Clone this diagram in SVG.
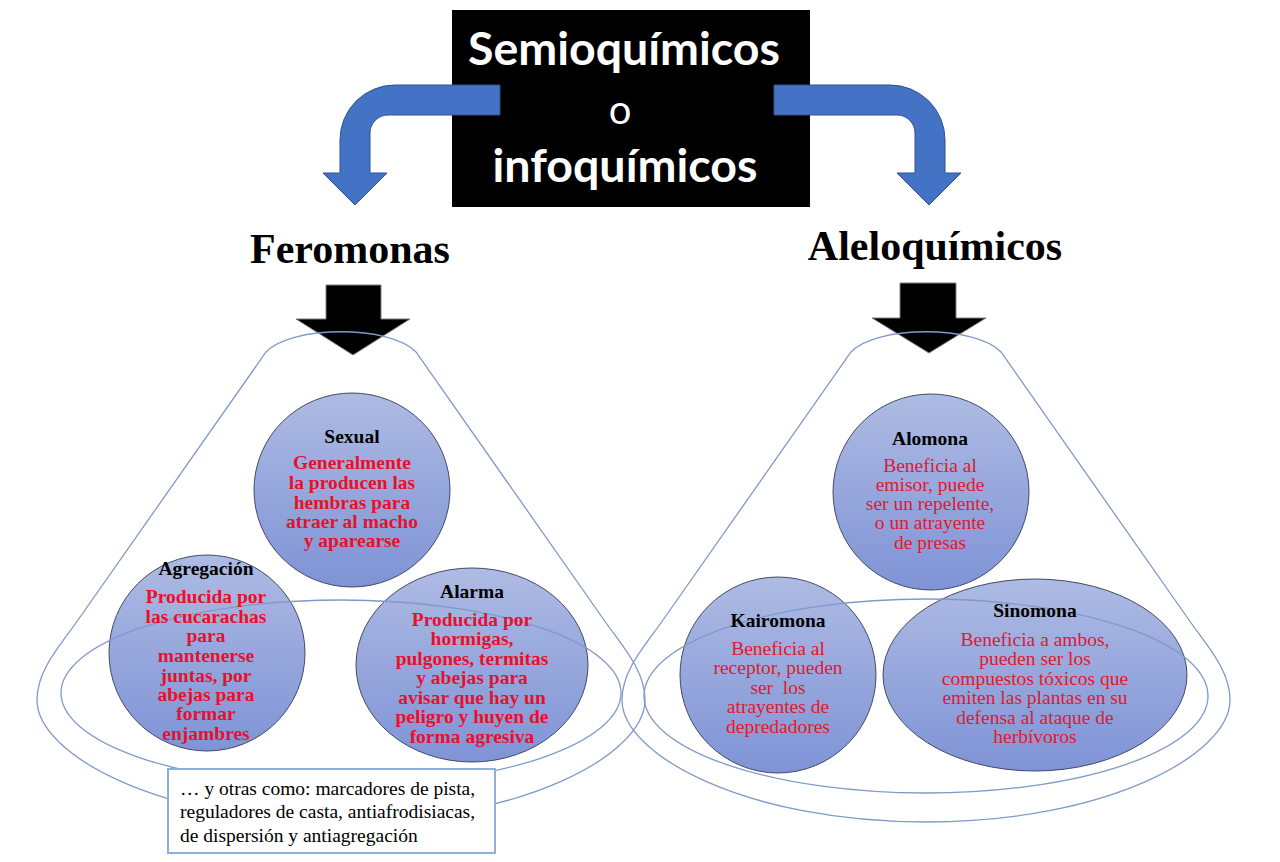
<svg xmlns="http://www.w3.org/2000/svg" width="1280" height="862" viewBox="0 0 1280 862">
<defs>
<linearGradient id="bub" x1="0" y1="0" x2="0" y2="1">
<stop offset="0" stop-color="#AEBBE3"/>
<stop offset="1" stop-color="#7F93D6"/>
</linearGradient>
<style>
.title{font-family:Lato,"Open Sans",sans-serif;fill:#fff}
.head{font-family:"Liberation Serif","Times New Roman",serif;font-weight:bold;font-size:42px;fill:#000;text-anchor:middle}
.bub{fill:url(#bub);stroke:#414a66;stroke-width:1}
.cone{fill:none;stroke:#7F9AC8;stroke-width:1.3}
.blk{fill:#000;stroke:#7f7f7f;stroke-width:1}
.blue{fill:#4472C4;stroke:#2F528F;stroke-width:1}
.t{font-family:"Liberation Serif","Times New Roman",serif;font-size:19.5px;text-anchor:middle}
.tb{font-weight:bold;fill:#000}
.rb{font-weight:bold;fill:#E8102A}
.r{fill:#E2182E}
.note{font-family:"Liberation Serif","Times New Roman",serif;font-size:19.5px;fill:#000}
</style>
</defs>
<rect width="1280" height="862" fill="#fff"/>

<g id="title">
<rect x="452" y="10" width="358" height="197" fill="#000"/>
<text class="title" x="624" y="65" font-size="45" font-weight="bold" text-anchor="middle" textLength="312" lengthAdjust="spacingAndGlyphs">Semioquímicos</text>
<text class="title" x="620" y="124" font-size="40" text-anchor="middle">o</text>
<text class="title" x="625" y="182" font-size="45" font-weight="bold" text-anchor="middle" textLength="265" lengthAdjust="spacingAndGlyphs">infoquímicos</text>
</g>

<g id="connectors">
<path class="blue" d="M500,85 L395,85 A55,55 0 0 0 340,140 L340,173 L323,173 L355,205 L387,173 L370,173 L370,133 A18,18 0 0 1 388,115 L500,115 Z"/>
<path class="blue" d="M774,85 L890,85 A55,55 0 0 1 945,140 L945,173 L961,173 L929,205 L897,173 L915,173 L915,133 A18,18 0 0 0 897,115 L774,115 Z"/>
<path class="blk" d="M326,285 L381,285 L381,319 L410,319 L353,355 L296,319 L326,319 Z"/>
<path class="blk" d="M900,283 L956,283 L956,318 L986,318 L929,353 L872,318 L900,318 Z"/>
</g>

<g id="feromonas">
<text class="head" x="350" y="263">Feromonas</text>
</g>
<g id="aleloquimicos">
<text class="head" x="935" y="260">Aleloquímicos</text>
</g>

<g id="sexual">
<ellipse class="bub" cx="352" cy="490" rx="98" ry="97"/>
</g>
<g id="agregacion">
<ellipse class="bub" cx="207" cy="653" rx="98" ry="98"/>
</g>
<g id="alarma">
<ellipse class="bub" cx="472" cy="665" rx="116" ry="97"/>
</g>
<g id="alomona">
<ellipse class="bub" cx="931" cy="492" rx="98" ry="98"/>
</g>
<g id="kairomona">
<ellipse class="bub" cx="778" cy="675" rx="98" ry="98"/>
</g>
<g id="sinomona">
<ellipse class="bub" cx="1035" cy="675" rx="152" ry="96"/>
</g>

<g id="cones">
<path class="cone" d="M266,352 C291,325 391,325 416,352 L604,620 C622,646 645,670 645,700 C645,755 521,822 341,822 C161,822 37,755 37,700 C37,670 60,646 78,620 Z"/>
<ellipse class="cone" cx="341" cy="693" rx="280" ry="93"/>
<path class="cone" d="M851,352 C876,325 976,325 1001,352 L1189,620 C1207,646 1230,670 1230,700 C1230,755 1106,822 926,822 C746,822 622,755 622,700 C622,670 645,646 663,620 Z"/>
<ellipse class="cone" cx="926" cy="696" rx="282" ry="97"/>
</g>

<g id="sexual-text" class="t">
<text class="tb" x="352" y="443">Sexual</text>
<text class="rb" x="352" y="469">Generalmente</text>
<text class="rb" x="352" y="489">la producen las</text>
<text class="rb" x="352" y="509">hembras para</text>
<text class="rb" x="352" y="528">atraer al macho</text>
<text class="rb" x="352" y="547">y aparearse</text>
</g>
<g id="agregacion-text" class="t">
<text class="tb" x="206" y="575">Agregación</text>
<text class="rb" x="206" y="603">Producida por</text>
<text class="rb" x="206" y="623">las cucarachas</text>
<text class="rb" x="206" y="642">para</text>
<text class="rb" x="206" y="662">mantenerse</text>
<text class="rb" x="206" y="682">juntas, por</text>
<text class="rb" x="206" y="701">abejas para</text>
<text class="rb" x="206" y="720">formar</text>
<text class="rb" x="206" y="740">enjambres</text>
</g>
<g id="alarma-text" class="t">
<text class="tb" x="472" y="598">Alarma</text>
<text class="rb" x="472" y="626">Producida por</text>
<text class="rb" x="472" y="645">hormigas,</text>
<text class="rb" x="472" y="665">pulgones, termitas</text>
<text class="rb" x="472" y="684">y abejas para</text>
<text class="rb" x="472" y="704">avisar que hay un</text>
<text class="rb" x="472" y="723">peligro y huyen de</text>
<text class="rb" x="472" y="743">forma agresiva</text>
</g>
<g id="alomona-text" class="t">
<text class="tb" x="930" y="445">Alomona</text>
<text class="r" x="930" y="472">Beneficia al</text>
<text class="r" x="930" y="491">emisor, puede</text>
<text class="r" x="930" y="510">ser un repelente,</text>
<text class="r" x="930" y="529">o un atrayente</text>
<text class="r" x="930" y="549">de presas</text>
</g>
<g id="kairomona-text" class="t">
<text class="tb" x="778" y="627">Kairomona</text>
<text class="r" x="778" y="655">Beneficia al</text>
<text class="r" x="778" y="674">receptor, pueden</text>
<text class="r" x="778" y="694" xml:space="preserve">ser  los</text>
<text class="r" x="778" y="713">atrayentes de</text>
<text class="r" x="778" y="733">depredadores</text>
</g>
<g id="sinomona-text" class="t">
<text class="tb" x="1035" y="617">Sinomona</text>
<text class="r" x="1035" y="646">Beneficia a ambos,</text>
<text class="r" x="1035" y="665">pueden ser los</text>
<text class="r" x="1035" y="685">compuestos tóxicos que</text>
<text class="r" x="1035" y="704">emiten las plantas en su</text>
<text class="r" x="1035" y="724">defensa al ataque de</text>
<text class="r" x="1035" y="743">herbívoros</text>
</g>

<g id="otras">
<rect x="168" y="769" width="327" height="84" fill="#fff" stroke="#8FB0DA" stroke-width="2"/>
<text class="note" x="180" y="795">… y otras como: marcadores de pista,</text>
<text class="note" x="180" y="818">reguladores de casta, antiafrodisiacas,</text>
<text class="note" x="180" y="842">de dispersión y antiagregación</text>
</g>
</svg>
